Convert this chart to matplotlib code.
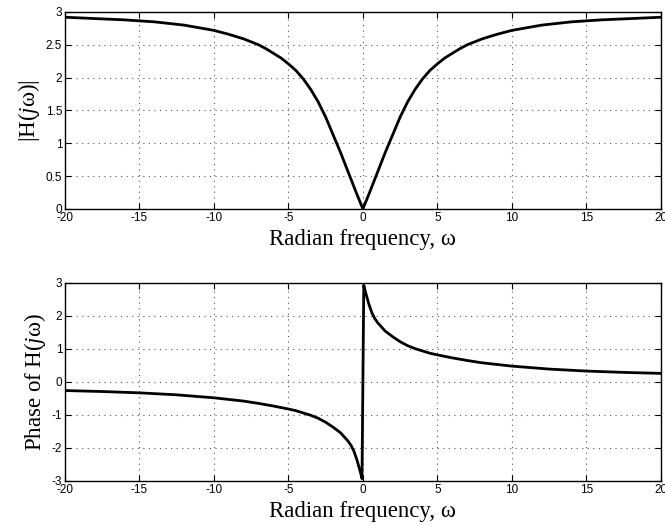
import matplotlib
matplotlib.use('Agg')
import matplotlib.pyplot as plt
import matplotlib.ticker as mtick

# valores (frequência em rad/s)
w_mag = [-20, -18, -16, -14, -12, -11, -10, -9, -8, -7, -6.5, -6, -5.5, -5, -4.5, -4, -3.5, -3, -2.5, -2, -1.5, -1, -0.5,
         0, 0.5, 1, 1.5, 2, 2.5, 3, 3.5, 4, 4.5, 5, 5.5, 6, 6.5, 7, 8, 9, 10, 11, 12, 14, 16, 18, 20]
mag = [2.92, 2.90, 2.88, 2.85, 2.80, 2.76, 2.72, 2.66, 2.59, 2.50, 2.44, 2.37, 2.30, 2.21, 2.11, 1.98, 1.82, 1.63, 1.40, 1.13, 0.86, 0.57, 0.28,
       0.0, 0.28, 0.57, 0.86, 1.13, 1.40, 1.63, 1.82, 1.98, 2.11, 2.21, 2.30, 2.37, 2.44, 2.50, 2.59, 2.66, 2.72, 2.76, 2.80, 2.85, 2.88, 2.90, 2.92]

w_fase = [-20, -17.5, -15, -12.5, -10, -8, -7, -6, -5, -4.5, -4, -3.5, -3, -2.5, -2, -1.5, -1, -0.8, -0.6, -0.4, -0.3, -0.2, -0.1, -0.06,
          0.06, 0.1, 0.2, 0.3, 0.4, 0.6, 0.8, 1, 1.5, 2, 2.5, 3, 3.5, 4, 4.5, 5, 6, 7, 8, 10, 12.5, 15, 17.5, 20]
fase = [-0.26, -0.29, -0.33, -0.39, -0.48, -0.58, -0.65, -0.73, -0.82, -0.87, -0.94, -1.01, -1.10, -1.22, -1.37, -1.54, -1.79, -1.92, -2.10, -2.36, -2.52, -2.68, -2.85, -2.93,
        2.93, 2.85, 2.68, 2.52, 2.36, 2.10, 1.92, 1.79, 1.54, 1.37, 1.22, 1.10, 1.01, 0.94, 0.87, 0.82, 0.73, 0.65, 0.58, 0.48, 0.39, 0.33, 0.29, 0.26]

xticks = [-20, -15, -10, -5, 0, 5, 10, 15, 20]
yticks_mag = [0, 0.5, 1, 1.5, 2, 2.5, 3]
yticks_fase = [-3, -2, -1, 0, 1, 2, 3]

plt.rcParams['axes.unicode_minus'] = False
plt.rcParams['mathtext.fontset'] = 'custom'
plt.rcParams['mathtext.rm'] = 'Liberation Serif'
plt.rcParams['mathtext.it'] = 'Liberation Serif:italic'

fig = plt.figure(figsize=(6.65, 5.26), dpi=100)
ax1 = fig.add_axes([0.0977, 0.6027, 0.896, 0.3745])
ax2 = fig.add_axes([0.0977, 0.0856, 0.896, 0.3765])

fonte_label = {'family': 'Liberation Serif', 'size': 16.5}

def estilo(ax, yticks, ylim, ylabel):
    ax.set_xlim(-20, 20)
    ax.set_ylim(*ylim)
    ax.set_xticks(xticks)
    ax.set_yticks(yticks)
    ax.yaxis.set_major_formatter(mtick.FormatStrFormatter('%g'))
    ax.xaxis.set_major_formatter(mtick.FormatStrFormatter('%g'))
    ax.tick_params(direction='in', top=True, right=True, length=4, width=0.8,
                   labelsize=8.5, pad=2)
    for lab in ax.get_xticklabels() + ax.get_yticklabels():
        lab.set_family('Liberation Sans')
    # grade pontilhada espaçada, estilo MATLAB
    ax.grid(True, linestyle=(0, (1, 4)), color='#555555', linewidth=0.8)
    for s in ax.spines.values():
        s.set_linewidth(1.0)
    ax.set_xlabel('Radian frequency, ω', fontdict=fonte_label, labelpad=4)
    ax.set_ylabel(ylabel, fontdict=fonte_label, labelpad=3)

ax1.plot(w_mag, mag, color='black', linewidth=2)
estilo(ax1, yticks_mag, (0, 3), r'|H($j$ω)|')

ax2.plot(w_fase, fase, color='black', linewidth=2)
estilo(ax2, yticks_fase, (-3, 3), r'Phase of H($j$ω)')

fig.savefig('out.png', dpi=100)
